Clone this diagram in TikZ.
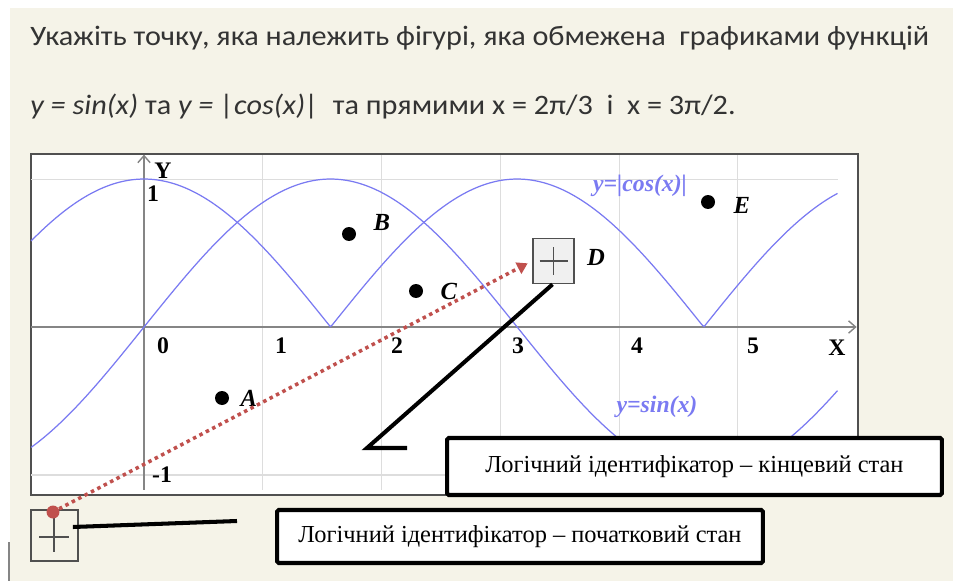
\documentclass[tikz,border=0pt]{standalone}
\usepackage{fontspec}
\setmainfont{Liberation Serif}
\newfontfamily\uifont{Carlito}
\usetikzlibrary{positioning,arrows.meta}
\definecolor{cream}{HTML}{F5F3E8}
\definecolor{curveblue}{HTML}{7A7AF2}
\definecolor{gridgray}{HTML}{DDDDDD}
\definecolor{axisgray}{HTML}{858585}
\definecolor{framegray}{HTML}{505050}
\definecolor{dotred}{HTML}{C0504D}
\definecolor{textgray}{HTML}{333333}

\begin{document}
\begin{tikzpicture}[
		x=0.02cm, y=-0.02cm,
		every node/.style={inner sep=0pt},
		question/.style={anchor=west, text=textgray, xscale=1.075,
			font=\uifont\fontsize{16}{19}\selectfont},
		pt/.style={circle, fill=black, minimum size=0.28cm},
		ptname/.style={font=\fontsize{14}{16}\selectfont\bfseries\itshape},
		axnum/.style={font=\fontsize{13.5}{16}\selectfont\bfseries},
		fnlabel/.style={text=curveblue, font=\fontsize{13.5}{16}\selectfont\bfseries\itshape},
		crossbox/.style={draw=framegray, line width=1pt, fill=#1},
		crossbox/.default=white,
		notebox/.style={draw, line width=2.3pt, fill=white, rounded corners=1pt,
			font=\fontsize{13.9}{16}\selectfont},
		curve/.style={curveblue, line width=0.7pt},
		gridline/.style={gridgray, line width=0.6pt},
		axis/.style={axisgray, line width=0.8pt, -{Straight Barb[length=4pt,width=7pt]}},
		callout/.style={black, line width=2.3pt}
		]
		
		% background
		\useasboundingbox (0,0) rectangle (953,581);
		\fill[white] (0,0) rectangle (953,581);
		\fill[cream] (10,8) rectangle (953,581);
		\draw[axisgray, line width=0.6pt] (9,542) -- (9,581);
		
		% question
		\node[question] (line1) at (30,38)
		{Укажіть точку, яка належить фігурі, яка обмежена\ \ графиками функцій};
		\node[question] (line2) at (30,106)
		{\textit{y = sin(x)} та \textit{y = |cos(x)|}\ \ та прямими x = 2π/3\ \ і\ \ x = 3π/2.};
		
		% plot frame
		\draw[framegray, line width=1.4pt, fill=white] (31,154) rectangle (858,495);
		
		\begin{scope}[shift={(144,327)}]
			\begin{scope}[x=2.376cm, y=2.96cm]
				\foreach \i in {1,...,5}
				\draw[gridline] (\i,-1.10) -- (\i,1.16);
				\draw[gridline] (-0.95,1) -- (5.84,1);
				\draw[gridline] (-0.95,-1) -- (5.84,-1);
				
				\draw[axis] (-0.95,0) -- (6.0,0);
				\draw[axis] (0,-1.10) -- (0,1.165);
				
				\draw[curve] plot[domain=-0.95:5.84, samples=400] (\x,{sin(\x r)});
				\draw[curve] plot[domain=-0.95:5.84, samples=400] (\x,{abs(cos(\x r))});
			\end{scope}
		\end{scope}
		
		% axis labels
		\node[axnum] (ylab) at (163,171) {Y};
		\node[axnum] (xlab) at (837,348) {X};
		\node[axnum] (yone) at (153,194) {1};
		\node[axnum] (ymone) at (162,475) {-1};
		\foreach \n/\px in {0/163,1/281,2/397,3/518,4/637,5/753}
		\node[axnum] (num\n) at (\px,346) {\n};
		
		\node[fnlabel] (coslab) at (640,186) {y=|cos(x)|};
		\node[fnlabel] (sinlab) at (657,407) {y=sin(x)};
		
		% points
		\node[pt] (A) at (222,398) {};
		\node[pt] (B) at (349,234) {};
		\node[pt] (C) at (416,291) {};
		\node[pt] (E) at (708,202) {};
		\node[ptname, right=0.22cm of A] (Alab) {A};
		\node[ptname, right=0.34cm of B, yshift=0.24cm] (Blab) {B};
		\node[ptname, right=0.34cm of C] (Clab) {C};
		\node[ptname, right=0.36cm of E, yshift=-0.06cm] (Elab) {E};
		
		% logical identifiers
		\node[crossbox=black!6, minimum width=0.82cm, minimum height=0.9cm] (Dbox) at (553.5,261) {};
		\node[ptname, right=0.24cm of Dbox, yshift=0.08cm] (Dlab) {D};
		\draw[framegray, line width=1pt] (Dbox.center) ++(-14,0) -- ++(28,0);
		\draw[framegray, line width=1pt] (Dbox.center) ++(0,-14) -- ++(0,28);
		
		\node[crossbox=cream, minimum width=0.94cm, minimum height=1.02cm] (startbox) at (54.5,535.5) {};
		\draw[framegray, line width=1pt] (39,537) -- (69,537);
		\draw[framegray, line width=1pt] (54,517) -- (54,552);
		\node[circle, fill=dotred, minimum size=0.26cm] (startdot) at (53,512) {};
		
		\draw[dotred, line width=2pt, dash pattern=on 2pt off 2.1pt,
		-{Triangle[length=6pt,width=7pt]}, shorten >=0.1cm] (startdot) -- (Dbox.west);
		
		% callouts
		\node[notebox, minimum width=9.9cm, minimum height=1.14cm] (endnote) at (694.5,466.5)
		{Логічний ідентифікатор – кінцевий стан};
		\node[notebox, minimum width=9.72cm, minimum height=1.06cm] (startnote) at (520,536.5)
		{Логічний ідентифікатор – початковий стан};
		
		\coordinate (elbow) at (367,448);
		\coordinate (elbowend) at (407,448);
		\draw[callout] ([xshift=-0.02cm]Dbox.south) -- (elbow) -- (elbowend);
		\coordinate (startend) at (237,521);
		\draw[callout] ([shift={(-6,-8.5)}]startbox.east) -- (startend);
		
	\end{tikzpicture}
\end{document}
